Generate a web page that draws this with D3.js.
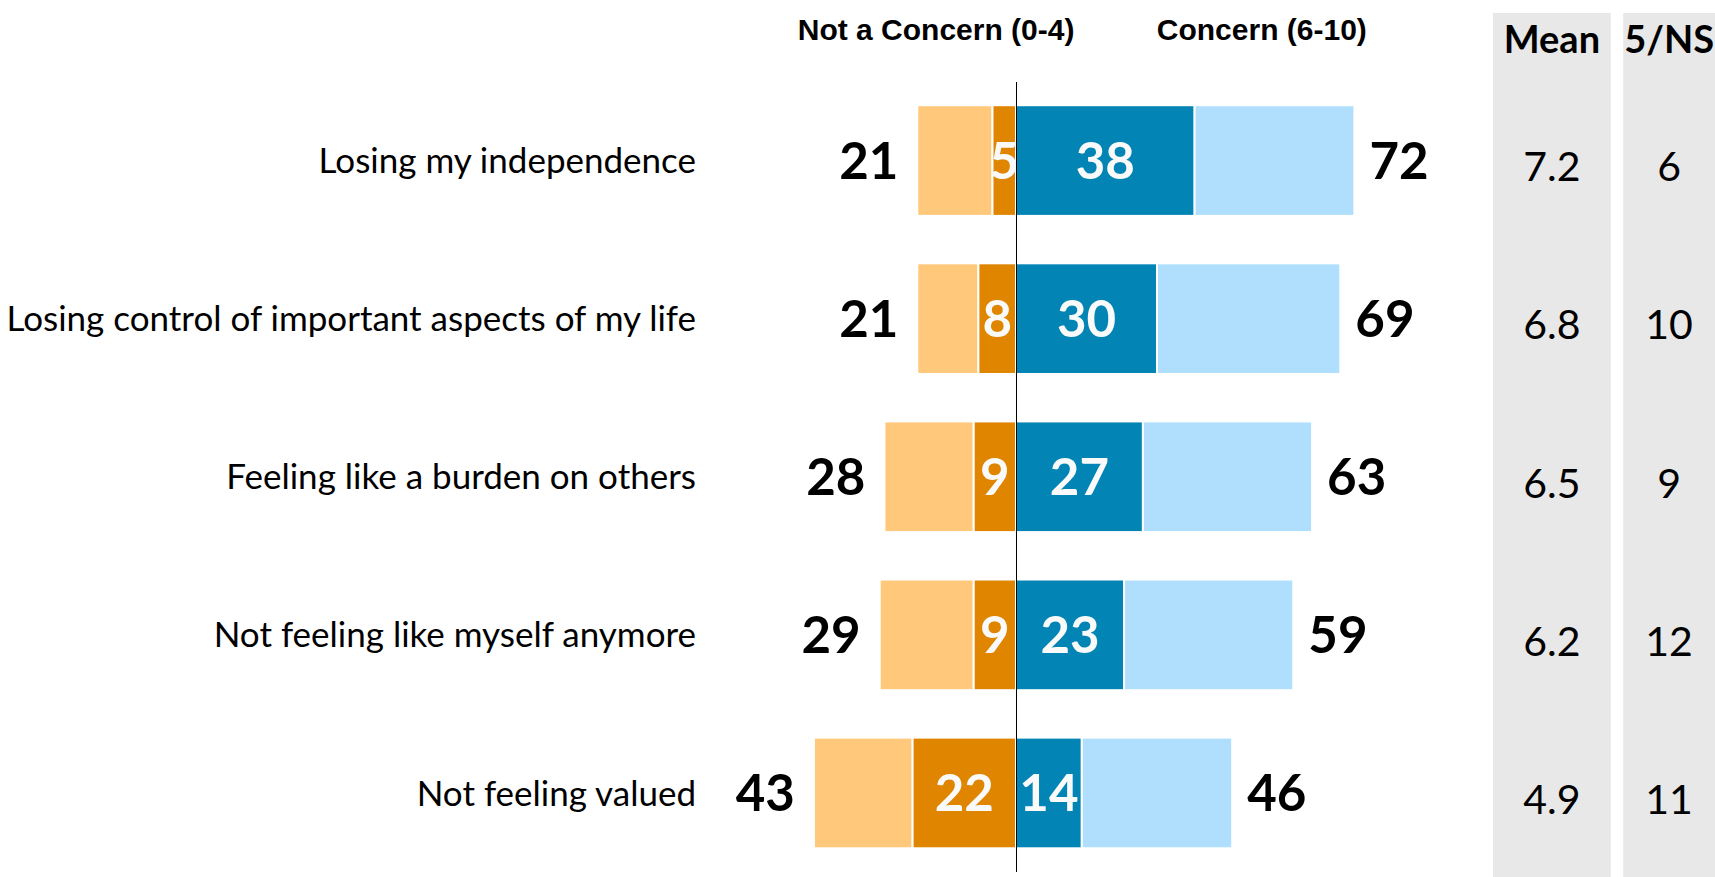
<!DOCTYPE html>
<meta charset="utf-8">
<style>
body {
  margin: 0;
  padding: 0;
  background: #fff;
}
text {
  font-family: Lato, "Open Sans", sans-serif;
}
</style>
<body>
<script src="https://d3js.org/d3.v7.min.js"></script>
<script>

// data
var categories = [
  "Losing my independence",
  "Losing control of important aspects of my life",
  "Feeling like a burden on others",
  "Not feeling like myself anymore",
  "Not feeling valued"
];
var notConcernTotal = [21, 21, 28, 29, 43];   // 0-4
var notConcernStrong = [5, 8, 9, 9, 22];      // darker orange part
var concernStrong = [38, 30, 27, 23, 14];     // darker blue part
var concernTotal = [72, 69, 63, 59, 46];      // 6-10
var means = [7.2, 6.8, 6.5, 6.2, 4.9];
var neutral = [6, 10, 9, 12, 11];             // 5/NS

var headers = ["Not a Concern (0-4)", "Concern (6-10)"];
var sideHeaders = ["Mean", "5/NS"];

var colors = {
  lightOrange: "#ffc87b",
  darkOrange: "#df8500",
  darkBlue: "#0285b5",
  lightBlue: "#b0dffd",
  panel: "#e8e8e8"
};

var width = 1715,
    height = 877;

var svg = d3.select("body").append("svg")
    .attr("width", width)
    .attr("height", height);

var x = d3.scaleLinear()
    .domain([-50, 75])
    .range([781, 1368.5]);

var y = d3.scaleBand()
    .domain(categories)
    .range([81.5, 872])
    .paddingInner(0.3)
    .paddingOuter(0.15);

// grey panels for the side columns (second one runs off the right edge)
var cols = d3.scaleBand()
    .domain(sideHeaders)
    .range([1493, 1741])
    .paddingInner(0.095);

function colCenter(d) {
  var x0 = cols(d);
  return (x0 + Math.min(x0 + cols.bandwidth(), width)) / 2;
}

svg.selectAll("rect.panel")
    .data(sideHeaders)
  .enter().append("rect")
    .attr("class", "panel")
    .attr("x", function(d) { return cols(d); })
    .attr("y", 13)
    .attr("width", cols.bandwidth())
    .attr("height", height - 13)
    .style("fill", colors.panel);

// build segment rows
var rows = categories.map(function(c, i) {
  return {
    cat: c,
    segs: [
      {x0: -notConcernTotal[i], x1: -notConcernStrong[i], fill: colors.lightOrange, label: null},
      {x0: -notConcernStrong[i], x1: 0, fill: colors.darkOrange, label: notConcernStrong[i]},
      {x0: 0, x1: concernStrong[i], fill: colors.darkBlue, label: concernStrong[i]},
      {x0: concernStrong[i], x1: concernTotal[i], fill: colors.lightBlue, label: null}
    ]
  };
});

var row = svg.selectAll("g.row")
    .data(rows)
  .enter().append("g")
    .attr("class", "row")
    .attr("transform", function(d) { return "translate(0," + y(d.cat) + ")"; });

row.selectAll("rect")
    .data(function(d) { return d.segs; })
  .enter().append("rect")
    .attr("x", function(d) { return x(d.x0); })
    .attr("width", function(d) { return x(d.x1) - x(d.x0); })
    .attr("height", y.bandwidth())
    .style("fill", function(d) { return d.fill; })
    .style("stroke", "#fff")
    .style("stroke-width", 2);

var mid = y.bandwidth() / 2;

row.selectAll("text.seg")
    .data(function(d) { return d.segs.filter(function(s) { return s.label !== null; }); })
  .enter().append("text")
    .attr("class", "seg")
    .attr("x", function(d) { return (x(d.x0) + x(d.x1)) / 2; })
    .attr("y", mid)
    .attr("dy", "0.36em")
    .attr("text-anchor", "middle")
    .style("font-size", "51px")
    .style("font-weight", 700)
    .style("fill", "#fafafa")
    .text(function(d) { return d.label; });

// totals either side
row.append("text")
    .attr("x", function(d, i) { return x(-notConcernTotal[i]) - 19; })
    .attr("y", mid)
    .attr("dy", "0.36em")
    .attr("text-anchor", "end")
    .style("font-size", "51px")
    .style("font-weight", 700)
    .style("fill", "#000")
    .text(function(d, i) { return notConcernTotal[i]; });

row.append("text")
    .attr("x", function(d, i) { return x(concernTotal[i]) + 15; })
    .attr("y", mid)
    .attr("dy", "0.36em")
    .attr("text-anchor", "start")
    .style("font-size", "51px")
    .style("font-weight", 700)
    .style("fill", "#000")
    .text(function(d, i) { return concernTotal[i]; });

// category labels
row.append("text")
    .attr("x", 696)
    .attr("y", mid)
    .attr("dy", "0.36em")
    .attr("text-anchor", "end")
    .style("font-size", "35px")
    .style("fill", "#000")
    .text(function(d) { return d.cat; });

// mean and 5/NS columns
row.append("text")
    .attr("x", colCenter("Mean"))
    .attr("y", mid + 6)
    .attr("dy", "0.36em")
    .attr("text-anchor", "middle")
    .style("font-size", "41px")
    .style("fill", "#000")
    .text(function(d, i) { return d3.format(".1f")(means[i]); });

row.append("text")
    .attr("x", colCenter("5/NS"))
    .attr("y", mid + 6)
    .attr("dy", "0.36em")
    .attr("text-anchor", "middle")
    .style("font-size", "41px")
    .style("fill", "#000")
    .text(function(d, i) { return neutral[i]; });

svg.selectAll("text.side")
    .data(sideHeaders)
  .enter().append("text")
    .attr("class", "side")
    .attr("x", colCenter)
    .attr("y", 53)
    .attr("text-anchor", "middle")
    .style("font-size", "38px")
    .style("font-weight", 700)
    .style("fill", "#000")
    .text(function(d) { return d; });

// top headers
svg.selectAll("text.head")
    .data(headers)
  .enter().append("text")
    .attr("class", "head")
    .attr("x", function(d, i) { return i === 0 ? x(-17) : x(52.3); })
    .attr("y", 40)
    .attr("text-anchor", "middle")
    .style("font-family", "'Liberation Sans', Arial, sans-serif")
    .style("font-size", "30px")
    .style("font-weight", 700)
    .style("fill", "#000")
    .text(function(d) { return d; });

// zero line
svg.append("line")
    .attr("x1", x(0) + 0.5)
    .attr("x2", x(0) + 0.5)
    .attr("y1", 82)
    .attr("y2", 872)
    .style("stroke", "#000")
    .style("stroke-width", 1);

</script>
